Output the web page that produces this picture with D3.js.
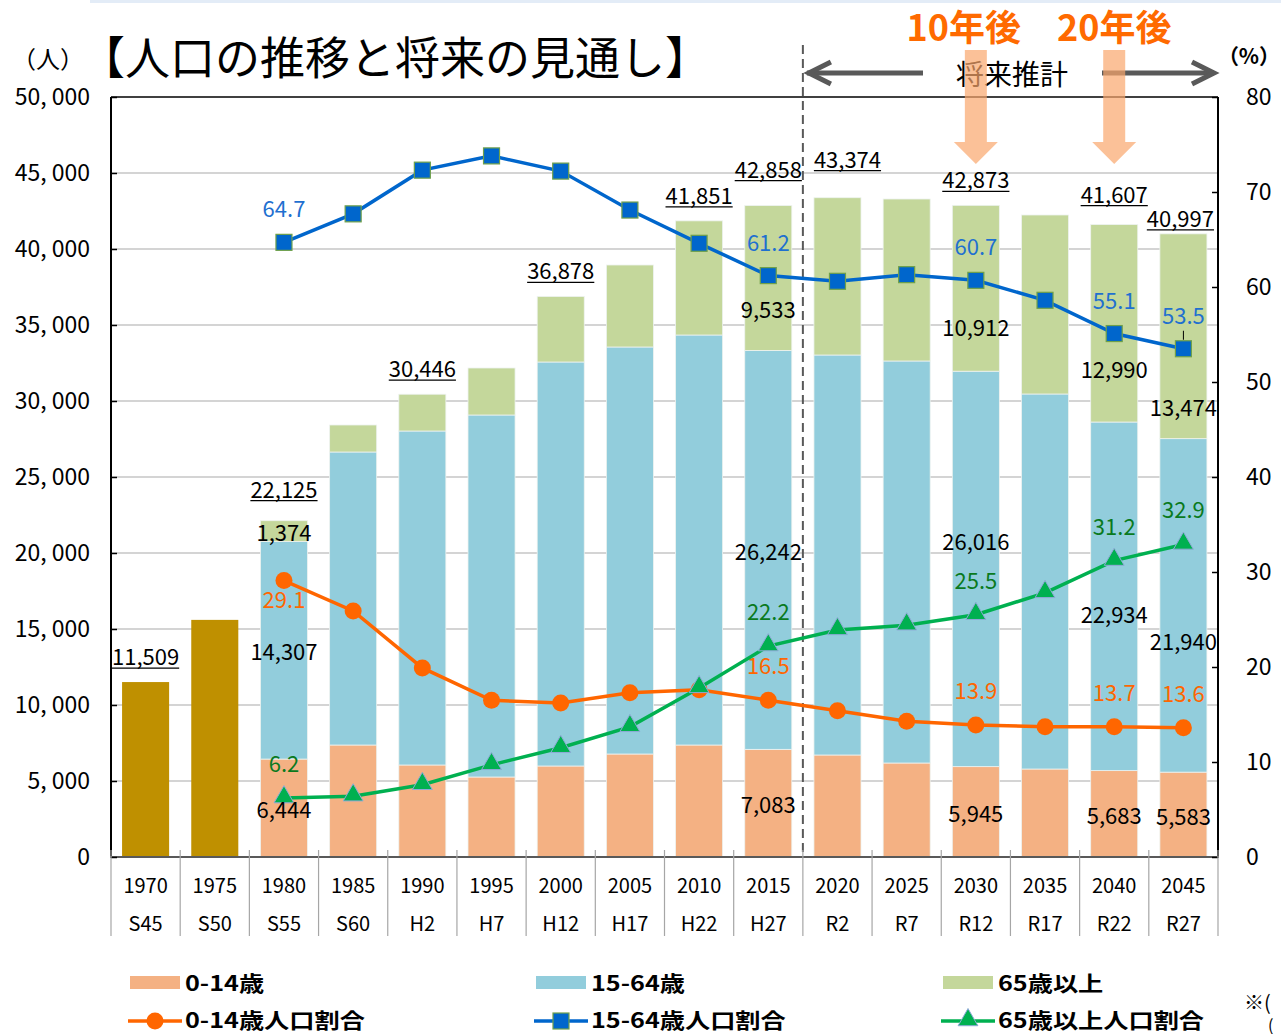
<!DOCTYPE html>
<html><head><meta charset="utf-8">
<script src="https://cdn.jsdelivr.net/npm/d3@7"></script>
<style>
html,body{margin:0;padding:0;background:#fff;}
svg{display:block;font-family:"Noto Sans CJK JP","Noto Sans",sans-serif;}
</style></head>
<body>
<svg id="c" width="1281" height="1034"></svg>
<script>
// ---------- DATA ----------
const years = ["1970","1975","1980","1985","1990","1995","2000","2005","2010","2015","2020","2025","2030","2035","2040","2045"];
const eras  = ["S45","S50","S55","S60","H2","H7","H12","H17","H22","H27","R2","R7","R12","R17","R22","R27"];
const totalOnly = [11509, 15600, null,null,null,null,null,null,null,null,null,null,null,null,null,null];
const pop0_14  = [null,null, 6444, 7368, 6053, 5263, 5987, 6776, 7368, 7083, 6711, 6184, 5945, 5789, 5683, 5583];
const pop15_64 = [null,null,14307,19277,21973,23816,26579,26777,26974,26242,26315,26448,26016,24672,22934,21940];
const pop65    = [null,null, 1374, 1776, 2420, 3092, 4312, 5394, 7509, 9533,10348,10657,10912,11776,12990,13474];
const ratio0_14  = [null,null,29.1,25.9,19.9,16.5,16.2,17.3,17.6,16.5,15.4,14.3,13.9,13.7,13.7,13.6];
const ratio15_64 = [null,null,64.7,67.7,72.3,73.8,72.2,68.1,64.6,61.2,60.6,61.3,60.7,58.6,55.1,53.5];
const ratio65    = [null,null, 6.2, 6.4, 7.6, 9.7,11.5,13.7,17.8,22.2,23.9,24.4,25.5,27.8,31.2,32.9];
const leftTicks  = [0,5000,10000,15000,20000,25000,30000,35000,40000,45000,50000];
const rightTicks = [0,10,20,30,40,50,60,70,80];
const totalLabelYears = ["1970","1980","1990","2000","2010","2015","2020","2030","2040","2045"];
const detailYears = ["1980","2015","2030","2040","2045"];
const legendRow1 = ["0-14歳","15-64歳","65歳以上"];
const legendRow2 = ["0-14歳人口割合","15-64歳人口割合","65歳以上人口割合"];
const futureYears = ["2030","2040"];
const futureLabels = ["10年後","20年後"];

// ---------- LAYOUT ----------
const L=111, R=1218, T=97, B=857;
const colors = {c0:"#F4B183", c1:"#92CDDC", c2:"#C4D79B", gold:"#BF9000",
  l0:"#FF6600", l1:"#0066CC", l2:"#00B050", t0:"#FF6600", t1:"#1F70D0", t2:"#0A7A1E"};
const nudge = {
  total:{"1980":[0,-6],"2015":[0,-11],"2020":[10,-13],"2040":[0,-5],"2045":[-3,10]},
  s65:{"2015":30,"2030":38,"2040":45,"2045":70},
  s1564:{"2030":-29,"2040":17,"2045":35},
  future:[-12,0]
};

const svg = d3.select("#c");
const x = d3.scaleBand().domain(years).range([L,R]).paddingInner(0.32).paddingOuter(0.16);
const yL = d3.scaleLinear().domain([0,50000]).range([B,T]);
const yR = d3.scaleLinear().domain([0,80]).range([B,T]);
const cx = d => x(d)+x.bandwidth()/2;
const step = x.step();

// top faint band
svg.append("rect").attr("x",90).attr("y",0).attr("width",1191).attr("height",3).attr("fill","#E3ECF7");

// gridlines
svg.append("g").selectAll("line").data(leftTicks.filter(v=>v>0&&v<50000)).join("line")
  .attr("x1",L).attr("x2",R).attr("y1",d=>yL(d)).attr("y2",d=>yL(d))
  .attr("stroke","#C6C6C6").attr("stroke-width",1.5);

// bars
const rows = years.map((y,i)=>({year:y,a:pop0_14[i]||0,b:pop15_64[i]||0,c:pop65[i]||0}));
const stack = d3.stack().keys(["a","b","c"])(rows);
const segCol = [colors.c0,colors.c1,colors.c2];
stack.forEach((s,k)=>{
  svg.append("g").selectAll("rect").data(s.filter(d=>d.data.a>0)).join("rect")
    .attr("x",d=>x(d.data.year)).attr("width",x.bandwidth())
    .attr("y",d=>yL(d[1])).attr("height",d=>yL(d[0])-yL(d[1]))
    .attr("fill",segCol[k]).attr("stroke","#EEF3F0").attr("stroke-width",0.8);
});
svg.append("g").selectAll("rect").data(years.map((y,i)=>({y,v:totalOnly[i]})).filter(d=>d.v)).join("rect")
  .attr("x",d=>x(d.y)).attr("width",x.bandwidth()).attr("y",d=>yL(d.v)).attr("height",d=>B-yL(d.v))
  .attr("fill",colors.gold);

// dashed future divider
const divX = x("2020") - (step - x.bandwidth())/2;
svg.append("line").attr("x1",divX).attr("x2",divX).attr("y1",45).attr("y2",B)
  .attr("stroke","#595959").attr("stroke-width",2).attr("stroke-dasharray","9,5");

// frame
svg.append("line").attr("x1",L).attr("x2",R).attr("y1",T).attr("y2",T).attr("stroke","#000").attr("stroke-width",1.5);
svg.append("line").attr("x1",L).attr("x2",L).attr("y1",T).attr("y2",B).attr("stroke","#000").attr("stroke-width",2);
svg.append("line").attr("x1",R).attr("x2",R).attr("y1",T).attr("y2",B).attr("stroke","#000").attr("stroke-width",2);
svg.append("line").attr("x1",L-1).attr("x2",R+1).attr("y1",B).attr("y2",B).attr("stroke","#595959").attr("stroke-width",2);

// left axis
const axL = svg.append("g").attr("transform",`translate(${L},0)`)
  .call(d3.axisLeft(yL).tickValues(leftTicks).tickSize(-6).tickPadding(21)
    .tickFormat(d=>d3.format(",")(d).replace(",",", ")));
axL.select(".domain").remove();
axL.selectAll("line").attr("stroke","#000").attr("stroke-width",1.5);
axL.selectAll("text").attr("font-size",23).attr("fill","#000").attr("font-family","'Noto Sans CJK JP'");
// right axis
const axR = svg.append("g").attr("transform",`translate(${R},0)`)
  .call(d3.axisRight(yR).tickValues(rightTicks).tickSize(-6).tickPadding(28));
axR.select(".domain").remove();
axR.selectAll("line").attr("stroke","#000").attr("stroke-width",1.5);
axR.selectAll("text").attr("font-size",23).attr("fill","#000").attr("font-family","'Noto Sans CJK JP'");

// category table below axis
const sep = d3.range(years.length+1).map(i=>L+i*step);
svg.append("g").selectAll("line").data(sep).join("line")
  .attr("x1",d=>d).attr("x2",d=>d).attr("y1",B-7).attr("y2",936)
  .attr("stroke","#A6A6A6").attr("stroke-width",1.2);
svg.append("g").selectAll("text").data(years).join("text")
  .attr("x",d=>cx(d)).attr("y",884).attr("text-anchor","middle").attr("dominant-baseline","central")
  .attr("font-size",20).text(d=>d);
svg.append("g").selectAll("text").data(eras).join("text")
  .attr("x",(d,i)=>cx(years[i])).attr("y",922).attr("text-anchor","middle").attr("dominant-baseline","central")
  .attr("font-size",20).text(d=>d);

// lines
const series = [
  {vals:ratio0_14, col:colors.l0, mk:"circle"},
  {vals:ratio15_64,col:colors.l1, mk:"square"},
  {vals:ratio65,   col:colors.l2, mk:"triangle"}
];
const line = d3.line().defined(d=>d.v!=null).x(d=>cx(d.y)).y(d=>yR(d.v));
function marker(g, type, col){
  if(type==="circle") g.append("circle").attr("r",8.5).attr("fill",col);
  else if(type==="square") g.append("rect").attr("x",-8).attr("y",-8).attr("width",16).attr("height",16)
     .attr("fill",col).attr("stroke","#6FA04A").attr("stroke-width",1.2);
  else g.append("path").attr("d",d3.symbol(d3.symbolTriangle,170)()).attr("transform","translate(0,-1)")
     .attr("fill",col).attr("stroke","#8FA9D8").attr("stroke-width",1);
}
series.forEach(s=>{
  const pts = years.map((y,i)=>({y,v:s.vals[i]}));
  svg.append("path").datum(pts).attr("d",line).attr("fill","none").attr("stroke",s.col).attr("stroke-width",3.5);
  pts.filter(d=>d.v!=null).forEach(d=>{
    const g = svg.append("g").attr("transform",`translate(${cx(d.y)},${yR(d.v)})`);
    marker(g,s.mk,s.col);
  });
});
// small leader line for 53.5
svg.append("line").attr("x1",cx("2045")).attr("x2",cx("2045")).attr("y1",yR(ratio15_64[15])-18).attr("y2",yR(ratio15_64[15])-9)
  .attr("stroke","#000").attr("stroke-width",1);

// labels
const fmt = d3.format(",");
function label(xp, yp, txt, col, underline){
  const t = svg.append("text").attr("x",xp).attr("y",yp).attr("text-anchor","middle")
    .attr("dominant-baseline","central").attr("font-size",22).attr("fill",col).text(txt);
  if(underline){
    const w = t.node().getComputedTextLength();
    svg.append("line").attr("x1",xp-w/2).attr("x2",xp+w/2).attr("y1",yp+13).attr("y2",yp+13)
      .attr("stroke","#000").attr("stroke-width",1.3);
  }
}
totalLabelYears.forEach(y=>{
  const i = years.indexOf(y);
  const tot = totalOnly[i] || (pop0_14[i]+pop15_64[i]+pop65[i]);
  const n = nudge.total[y]||[0,0];
  label(cx(y)+n[0], yL(tot)-27+n[1], fmt(tot), "#000", true);
});
detailYears.forEach(y=>{
  const i = years.indexOf(y);
  const a=pop0_14[i], b=pop15_64[i], c=pop65[i];
  label(cx(y), (yL(0)+yL(a))/2, fmt(a), "#000");
  label(cx(y), (yL(a)+yL(a+b))/2 + (nudge.s1564[y]||0), fmt(b), "#000");
  label(cx(y), (yL(a+b)+yL(a+b+c))/2 + (nudge.s65[y]||0), fmt(c), "#000");
  label(cx(y), yR(ratio15_64[i])-35, ratio15_64[i].toFixed(1), colors.t1);
  label(cx(y), yR(ratio65[i])-36, ratio65[i].toFixed(1), colors.t2);
  const below = (i===2);
  label(cx(y), below ? yR(ratio0_14[i])+17 : yR(ratio0_14[i])-36, ratio0_14[i].toFixed(1), colors.t0);
});

// titles
svg.append("text").attr("x",80).attr("y",55).attr("dominant-baseline","central").attr("font-size",45)
  .attr("fill","#000").text("【人口の推移と将来の見通し】");
svg.append("text").attr("x",48).attr("y",57).attr("text-anchor","middle").attr("dominant-baseline","central")
  .attr("font-size",24).text("（人）");
svg.append("text").attr("x",1249).attr("y",55).attr("text-anchor","middle").attr("dominant-baseline","central")
  .attr("font-size",21).attr("font-weight",700).text("（%）");

// future projection arrows
const ay = 73;
svg.append("text").attr("x",1012).attr("y",ay).attr("text-anchor","middle").attr("dominant-baseline","central")
  .attr("font-size",28).text("将来推計");
const ag = svg.append("g").attr("stroke","#595959").attr("stroke-width",5).attr("fill","none").attr("stroke-linecap","butt");
ag.append("line").attr("x1",divX+4).attr("x2",923).attr("y1",ay).attr("y2",ay);
ag.append("path").attr("d",`M${divX+28},${ay-11}L${divX+6},${ay}L${divX+28},${ay+11}`);
ag.append("line").attr("x1",1102).attr("x2",R-4).attr("y1",ay).attr("y2",ay);
ag.append("path").attr("d",`M${R-26},${ay-11}L${R-4},${ay}L${R-26},${ay+11}`);

futureYears.forEach((y,k)=>{
  const c = cx(y);
  svg.append("path").attr("d",`M${c-11},50L${c+11},50L${c+11},142L${c+22},142L${c},164L${c-22},142L${c-11},142Z`)
    .attr("fill","#F9A66C").attr("opacity",0.7);
  svg.append("text").attr("x",c+nudge.future[k]).attr("y",25).attr("text-anchor","middle").attr("dominant-baseline","central")
    .attr("font-size",36).attr("font-weight",700).attr("fill","#FF6A00").text(futureLabels[k]);
});

// legend
const legX = [130,536,943];
function legText(xp, yp, t){
  svg.append("text").attr("transform",`translate(${xp},${yp}) scale(1.2,1)`)
    .attr("dominant-baseline","central").attr("font-size",21).attr("font-weight",600).text(t);
}
legendRow1.forEach((t,k)=>{
  svg.append("rect").attr("x",legX[k]).attr("y",976).attr("width",50).attr("height",13).attr("fill",segCol[k]);
  legText(legX[k]+55, 982, t);
});
legendRow2.forEach((t,k)=>{
  svg.append("line").attr("x1",legX[k]-2).attr("x2",legX[k]+52).attr("y1",1021).attr("y2",1021)
    .attr("stroke",series[k].col).attr("stroke-width",3.5);
  const g = svg.append("g").attr("transform",`translate(${legX[k]+25},1021)`);
  marker(g, series[k].mk, series[k].col);
  legText(legX[k]+55, 1019, t);
});
svg.append("text").attr("x",1244).attr("y",1001).attr("dominant-baseline","central").attr("font-size",20).text("※(");
svg.append("text").attr("x",1268).attr("y",1024).attr("dominant-baseline","central").attr("font-size",16).text("(");
</script>
</body></html>
